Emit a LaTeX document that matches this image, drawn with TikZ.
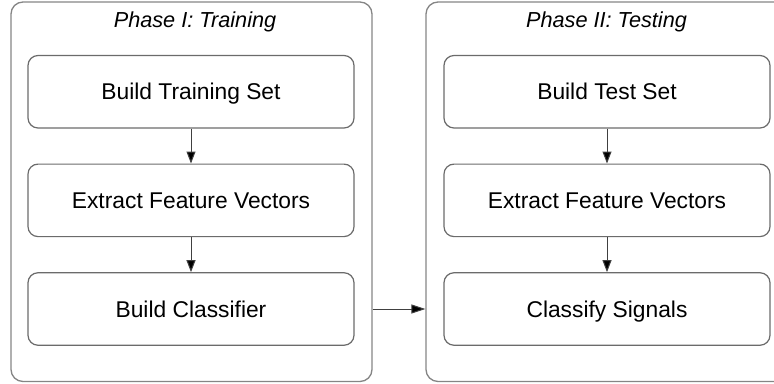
\documentclass[tikz,border=0pt]{standalone}
\usepackage{fontspec}
\setmainfont{Liberation Sans}
\usetikzlibrary{arrows.meta}
\definecolor{outerline}{gray}{0.52}
\definecolor{innerline}{gray}{0.42}
\tikzset{
  phasebox/.style={draw=outerline, line width=1.3pt, rounded corners=12pt,
    minimum width=361pt, minimum height=379.5pt, inner sep=0pt},
  stepbox/.style={draw=innerline, line width=1.2pt, rounded corners=10pt,
    minimum width=326pt, minimum height=72.5pt, inner sep=0pt,
    text height=16.4pt, text depth=0pt,
    font=\fontsize{22.8}{25}\selectfont},
  phasetitle/.style={anchor=base, inner sep=0pt,
    font=\fontsize{21.7}{24}\selectfont\itshape},
  flow/.style={draw=black!75, line width=1pt,
    -{Triangle[length=12pt,width=9pt,fill=black]}},
  across/.style={draw=black!75, line width=1pt,
    -{Triangle[length=14pt,width=9pt,fill=black]}}
}
\begin{document}
\begin{tikzpicture}[x=1pt,y=-1pt]
\useasboundingbox (0,0) rectangle (774,383);
\clip (0,0) rectangle (774,383);
% phase boxes
\node[phasebox] (lo) at (191.5,191.75) {};
\node[phasebox] (ro) at (606.5,191.75) {};
\node[phasetitle] (lt) at (195,27.5) {Phase I: Training};
\node[phasetitle] (rt) at (606.5,27.5) {Phase II: Testing};
% left steps
\node[stepbox] (la) at (191,91.75) {Build Training Set};
\node[stepbox] (lb) at (191,200.35) {Extract Feature Vectors};
\node[stepbox] (lc) at (191,309) {Build Classifier};
% right steps
\node[stepbox] (ra) at (607,91.75) {Build Test Set};
\node[stepbox] (rb) at (607,200.35) {Extract Feature Vectors};
\node[stepbox] (rc) at (607,309) {Classify Signals};
% connectors
\draw[flow] (la.south) -- (lb.north);
\draw[flow] (lb.south) -- (lc.north);
\draw[flow] (ra.south) -- (rb.north);
\draw[flow] (rb.south) -- (rc.north);
\draw[across] (lo.east |- lc.center) -- (ro.west |- rc.center);
\end{tikzpicture}
\end{document}
